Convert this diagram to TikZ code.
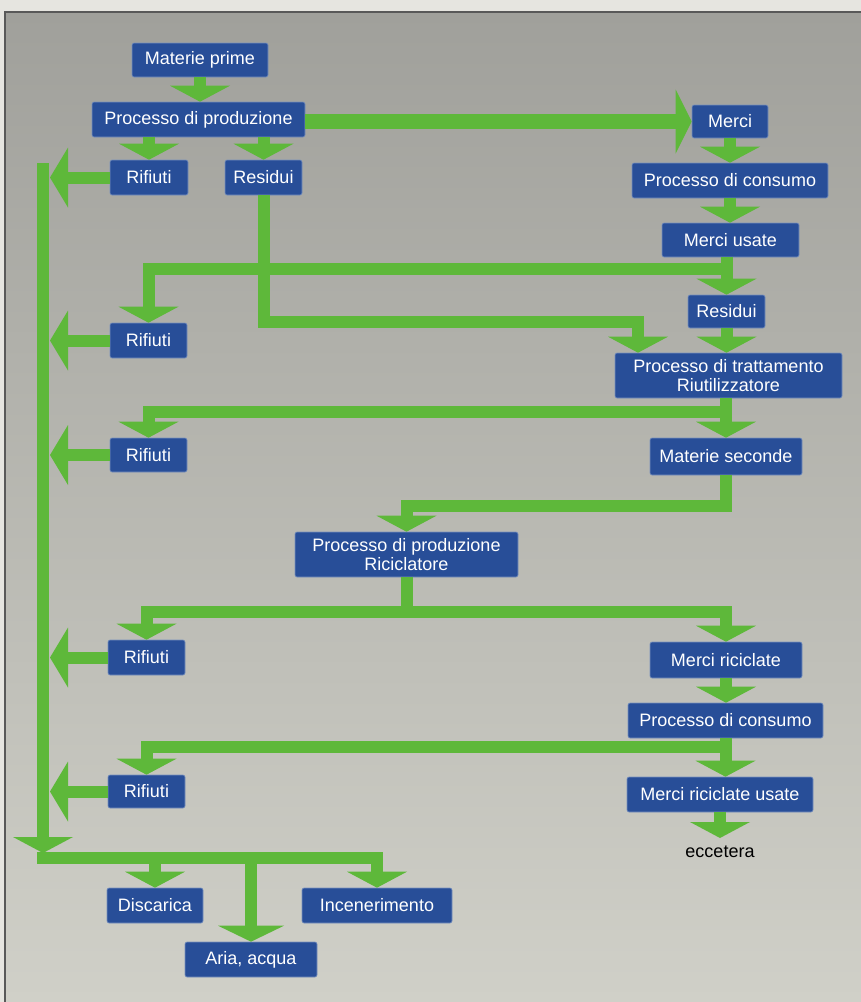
\documentclass[tikz,border=0pt]{standalone}
\usepackage{fontspec}
\setmainfont{Liberation Sans}
\usetikzlibrary{arrows.meta}
\definecolor{boxblue}{RGB}{40,78,152}
\definecolor{boxedge}{RGB}{120,145,190}
\definecolor{flowgreen}{RGB}{94,184,58}
\definecolor{bgtop}{RGB}{160,160,155}
\definecolor{bgbot}{RGB}{208,208,200}
\definecolor{outerbg}{RGB}{230,229,224}
\begin{document}
\begin{tikzpicture}[x=1pt,y=-1pt,
  box/.style={fill=boxblue, draw=boxedge, line width=0.6pt, rounded corners=2pt, text=white, inner sep=0pt, font=\fontsize{18}{19.5}\selectfont, align=center},
  flow/.style={draw=flowgreen, line width=12pt, line join=miter, -{Triangle[width=60pt,length=16pt,line width=0pt]}},
  flowleft/.style={flow, -{Triangle[width=60pt,length=18pt,line width=0pt]}},
  flowbig/.style={flow, line width=15pt, -{Triangle[width=64pt,length=16pt,line width=0pt]}},
]
% background
\fill[outerbg] (0,0) rectangle (861,1002);
\useasboundingbox (0,0) rectangle (861,1002);
\shade[top color=bgtop, bottom color=bgbot] (5,12) rectangle (861,1002);
\draw[black!65, line width=1.2pt] (5,1002) -- (5,12) -- (861,12);

% nodes
\node[box, minimum width=136pt, minimum height=34pt] (mp) at (200,60) {Materie prime};
\node[box, minimum width=213pt, minimum height=35pt] (pp) at (198.5,119.5) {Processo di produzione};
\node[box, minimum width=78pt, minimum height=35pt] (rif1) at (149,177.5) {Rifiuti};
\node[box, minimum width=77pt, minimum height=35pt] (res1) at (263.5,177.5) {Residui};
\node[box, minimum width=76pt, minimum height=33pt] (merci) at (730,121.5) {Merci};
\node[box, minimum width=196pt, minimum height=35pt] (pc1) at (730,180.5) {Processo di consumo};
\node[box, minimum width=137pt, minimum height=34pt] (mu) at (730.5,240) {Merci usate};
\node[box, minimum width=77pt, minimum height=33pt] (res2) at (726.5,311.5) {Residui};
\node[box, minimum width=227pt, minimum height=45pt] (pt) at (728.5,375.5) {Processo di trattamento\\Riutilizzatore};
\node[box, minimum width=77pt, minimum height=35pt] (rif2) at (148.5,340.5) {Rifiuti};
\node[box, minimum width=77pt, minimum height=34pt] (rif3) at (148.5,455) {Rifiuti};
\node[box, minimum width=152pt, minimum height=37pt] (ms) at (726,456.5) {Materie seconde};
\node[box, minimum width=223pt, minimum height=45pt] (pr) at (406.5,554.5) {Processo di produzione\\Riciclatore};
\node[box, minimum width=77pt, minimum height=35pt] (rif4) at (146.5,657.5) {Rifiuti};
\node[box, minimum width=152pt, minimum height=36pt] (mr) at (726,660) {Merci riciclate};
\node[box, minimum width=195pt, minimum height=35pt] (pc2) at (725.5,720.5) {Processo di consumo};
\node[box, minimum width=77pt, minimum height=33pt] (rif5) at (146.5,791.5) {Rifiuti};
\node[box, minimum width=186pt, minimum height=35pt] (mru) at (720,794.5) {Merci riciclate usate};
\node[anchor=north, inner xsep=0pt, inner ysep=8pt, font=\fontsize{18}{19.5}\selectfont] (ecc) at (720,838) {eccetera};
\node[box, minimum width=96pt, minimum height=35pt] (disc) at (155,905.5) {Discarica};
\node[box, minimum width=132pt, minimum height=35pt] (aria) at (251,959.5) {Aria, acqua};
\node[box, minimum width=150pt, minimum height=35pt] (inc) at (377,905.5) {Incenerimento};

% junction coordinates
\coordinate (b1) at (732.5,269);
\coordinate (c1) at (638,322);
\coordinate (b2) at (732,412);
\coordinate (c2) at (406.5,506);
\coordinate (c3) at (406.5,612);
\coordinate (b3) at (731.5,747);
\coordinate (ttop) at (43,163);
\coordinate (tbot) at (43,853);
\coordinate (tE) at (50,0);
\coordinate (bus) at (37,858);

% connectors
\draw[flow] (mp.south) -- (mp.south |- pp.north);
\draw[flow] (pp.south -| rif1) -- (rif1.north);
\draw[flow] (pp.south -| res1) -- (res1.north);
\draw[flowbig] (pp.east |- merci.west) -- (merci.west);
\draw[flow] (merci.south) -- (merci.south |- pc1.north);
\draw[flow] (pc1.south) -- (pc1.south |- mu.north);
\draw[flow] (mu.south -| res2) -- (res2.north);
\draw[flow] (b1) -| (rif2.north);
\draw[flow] (res1.south) |- (c1) -- (c1 |- pt.north);
\draw[flow] (res2.south) -- (res2.south |- pt.north);
\draw[flow] (pt.south -| ms) -- (ms.north);
\draw[flow] (b2) -| (rif3.north);
\draw[flow] (ms.south) |- (c2) -- (pr.north);
\draw[flow] (pr.south) -- (c3) -| (rif4.north);
\draw[flow] (c3) -| (mr.north);
\draw[flow] (mr.south) -- (mr.south |- pc2.north);
\draw[flow] (pc2.south) -- (pc2.south |- mru.north);
\draw[flow] (b3) -| (rif5.north);
\draw[flow] (mru.south) -- (ecc.north);

% waste trunk
\draw[flow] (ttop) -- (tbot);
\draw[flowleft] (rif1.west) -- (rif1.west -| tE);
\draw[flowleft] (rif2.west) -- (rif2.west -| tE);
\draw[flowleft] (rif3.west) -- (rif3.west -| tE);
\draw[flowleft] (rif4.west) -- (rif4.west -| tE);
\draw[flowleft] (rif5.west) -- (rif5.west -| tE);
\draw[flow] (bus) -| (inc.north);
\draw[flow] (disc.north |- bus) -- (disc.north);
\draw[flow, -{Triangle[width=66pt,length=16pt,line width=0pt]}] (aria.north |- bus) -- (aria.north);
\end{tikzpicture}
\end{document}
